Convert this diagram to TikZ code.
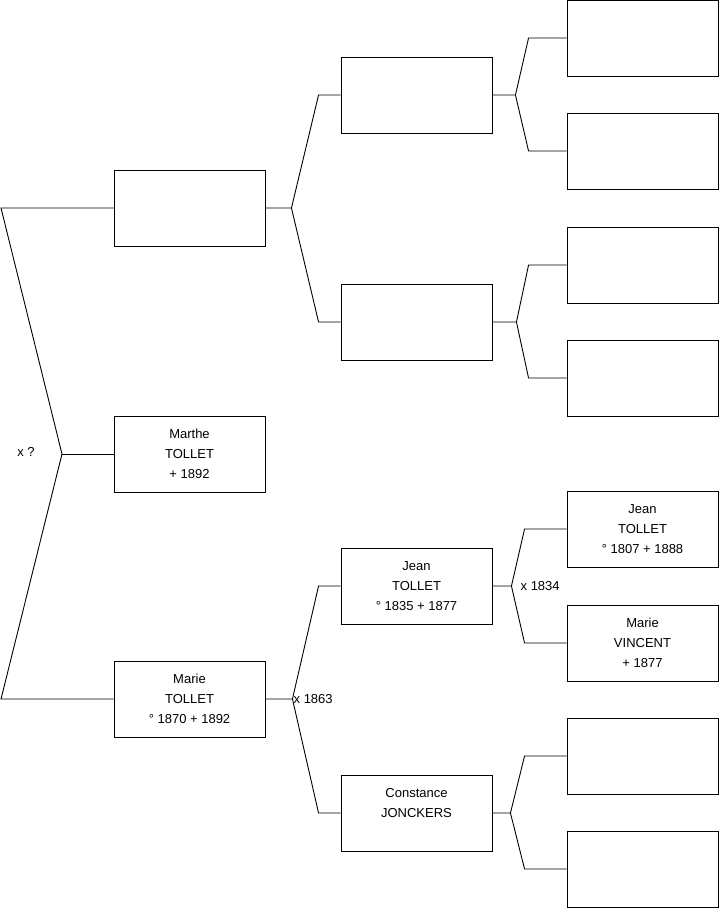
\documentclass[tikz,border=0pt]{standalone}
\usepackage{fontspec}
\setmainfont{Liberation Sans}
\usepackage{tikz}
\usetikzlibrary{positioning}

\begin{document}
\begin{tikzpicture}[
        x=1pt,
        y=-1pt,
        font=\fontsize{13}{20}\selectfont,
        person/.style={
            draw,
            line width=0.9pt,
            minimum width=151pt,
            minimum height=76pt,
            align=center,
            inner sep=2pt
        },
        link/.style={
            line width=0.9pt,
            line join=miter
        },
        union/.style={
            anchor=west,
            inner sep=1pt
        }
    ]

        \useasboundingbox (0,0) rectangle (719,908);

        % Génération 1
        \node[person] (father)  at (189.5,208) {};
        \node[person] (marthe)  at (189.5,454) {Marthe\\TOLLET\\+ 1892};
        \node[person] (marie)   at (189.5,699) {Marie\\TOLLET\\° 1870 + 1892};

        % Génération 2
        \node[person] (pgf)     at (416.5,95)  {};
        \node[person] (pgm)     at (416.5,322) {};
        \node[person] (jean)    at (416.5,586) {Jean\\TOLLET\\° 1835 + 1877};
        \node[person] (constance) at (416.5,813) {Constance\\JONCKERS\\~};

        % Génération 3
        \node[person] (ppf1) at (642.5,38)  {};
        \node[person] (ppm1) at (642.5,151) {};
        \node[person] (ppf2) at (642.5,265) {};
        \node[person] (ppm2) at (642.5,378) {};
        \node[person] (jeanpere) at (642.5,529) {Jean\\TOLLET\\° 1807 + 1888};
        \node[person] (mariev)   at (642.5,643) {Marie\\VINCENT\\+ 1877};
        \node[person] (cpf) at (642.5,756) {};
        \node[person] (cpm) at (642.5,869) {};

        % Fratrie de gauche
        \coordinate (sibling-top) at (1,208);
        \coordinate (sibling-fork) at (62,454);
        \coordinate (sibling-bot) at (1,699);

        \draw[link]
            (father.west) -- (sibling-top)
            -- (sibling-fork)
            -- (sibling-bot) -- (marie.west);

        \draw[link]
            (sibling-fork) -- (marthe.west);

        \node at (26,452) {x ?};

        % Parents
        \draw[link]
            (father.east) -- ++(26,0) coordinate (fork-father)
            -- ([xshift=-22pt]pgf.west) -- (pgf.west);
        \draw[link]
            (fork-father)
            -- ([xshift=-22pt]pgm.west) -- (pgm.west);

        \draw[link]
            (marie.east) -- ++(27,0) coordinate (fork-marie)
            -- ([xshift=-22pt]jean.west) -- (jean.west);
        \draw[link]
            (fork-marie)
            -- ([xshift=-22pt]constance.west) -- (constance.west);

        \node[union] at (fork-marie) {x 1863};

        % Grands-parents
        \draw[link]
            (pgf.east) -- ++(23,0) coordinate (fork-pgf)
            -- ([xshift=-38pt]ppf1.west) -- (ppf1.west);
        \draw[link]
            (fork-pgf)
            -- ([xshift=-38pt]ppm1.west) -- (ppm1.west);

        \draw[link]
            (pgm.east) -- ++(24,0) coordinate (fork-pgm)
            -- ([xshift=-38pt]ppf2.west) -- (ppf2.west);
        \draw[link]
            (fork-pgm)
            -- ([xshift=-38pt]ppm2.west) -- (ppm2.west);

        \draw[link]
            (jean.east) -- ++(19,0) coordinate (fork-jean)
            -- ([xshift=-42pt]jeanpere.west) -- (jeanpere.west);
        \draw[link]
            (fork-jean)
            -- ([xshift=-42pt]mariev.west) -- (mariev.west);

        \node[union] at ([xshift=8pt]fork-jean) {x 1834};

        \draw[link]
            (constance.east) -- ++(18,0) coordinate (fork-constance)
            -- ([xshift=-42pt]cpf.west) -- (cpf.west);
        \draw[link]
            (fork-constance)
            -- ([xshift=-42pt]cpm.west) -- (cpm.west);

    \end{tikzpicture}
\end{document}
